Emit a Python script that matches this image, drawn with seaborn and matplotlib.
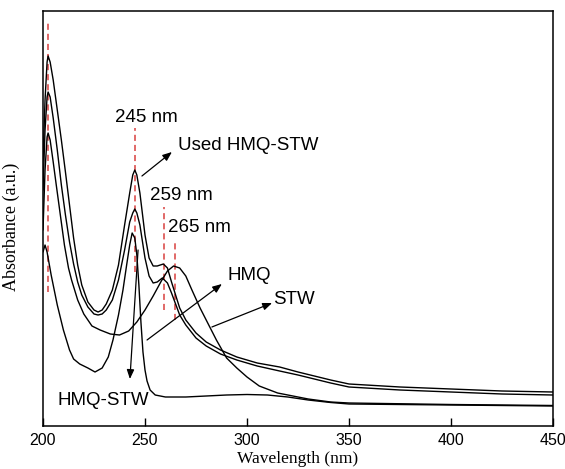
import numpy as np
import pandas as pd
import matplotlib
matplotlib.use("Agg")
import matplotlib.pyplot as plt
import seaborn as sns

# ---------------- data (arbitrary absorbance units) ----
used_wl = [200, 201, 202, 202.5, 203.5, 205, 207, 209, 211, 213, 215, 217, 219, 222, 225, 227,
           229, 231, 234, 237, 240, 242.5, 244, 245, 246, 247.5, 250, 252, 254, 256, 259, 261,
           263, 267, 270, 275, 280, 287, 295, 305, 316, 325, 341, 350, 375, 400, 425, 450]
used_abs = [2.66, 3.26, 3.64, 3.70, 3.64, 3.46, 3.16, 2.86, 2.54, 2.21, 1.88, 1.61, 1.41, 1.24,
            1.16, 1.14, 1.16, 1.22, 1.36, 1.61, 2.01, 2.33, 2.51, 2.56, 2.51, 2.33, 1.91, 1.68,
            1.60, 1.60, 1.62, 1.58, 1.44, 1.18, 1.06, 0.93, 0.84, 0.76, 0.69, 0.63, 0.59, 0.54,
            0.46, 0.42, 0.39, 0.37, 0.35, 0.34]

hmqstw_wl = [200, 201, 202, 202.5, 203.5, 205, 207, 209, 211, 213, 215, 217, 219, 222, 225, 227,
             229, 231, 234, 237, 240, 242.5, 244, 245, 246, 247.5, 250, 252, 254, 256, 258.5,
             261, 263, 267, 270, 275, 280, 287, 295, 305, 316, 325, 341, 350, 375, 400, 425, 450]
hmqstw_abs = [2.36, 2.96, 3.29, 3.34, 3.29, 3.08, 2.76, 2.41, 2.11, 1.84, 1.62, 1.44, 1.31, 1.19,
              1.12, 1.11, 1.12, 1.16, 1.26, 1.46, 1.76, 2.04, 2.13, 2.17, 2.13, 2.01, 1.68, 1.50,
              1.43, 1.44, 1.48, 1.43, 1.33, 1.11, 1.01, 0.88, 0.80, 0.72, 0.66, 0.60, 0.55, 0.51,
              0.43, 0.39, 0.36, 0.34, 0.32, 0.31]

stw_wl = [200, 201, 202, 202.5, 203.5, 205, 206.5, 208.5, 210.5, 212.5, 214, 217, 220, 224, 228,
          233, 237.5, 242, 246, 250, 254, 258, 261, 264, 267, 270, 273, 277, 281, 285, 290, 295,
          300, 306, 315, 330, 341, 350, 400, 450]
stw_abs = [1.96, 2.56, 2.89, 2.93, 2.86, 2.64, 2.41, 2.11, 1.81, 1.58, 1.46, 1.26, 1.12, 1.00,
           0.96, 0.92, 0.91, 0.95, 1.04, 1.16, 1.30, 1.45, 1.55, 1.60, 1.58, 1.50, 1.36, 1.18,
           1.02, 0.86, 0.68, 0.58, 0.49, 0.40, 0.33, 0.27, 0.24, 0.23, 0.215, 0.205]

hmq_wl = [200, 201, 202, 204, 207, 210, 213, 215, 218, 222, 225.5, 229, 232, 234.3, 237, 239.2,
          241, 242.5, 243.7, 245, 246, 247, 248, 249, 250, 251, 252.5, 255, 260, 270, 280, 290,
          300, 310, 320, 330, 341, 350, 400, 450]
hmq_abs = [1.74, 1.81, 1.74, 1.51, 1.21, 0.96, 0.76, 0.67, 0.62, 0.58, 0.54, 0.58, 0.69, 0.86,
           1.11, 1.36, 1.61, 1.81, 1.93, 1.88, 1.71, 1.41, 1.04, 0.74, 0.56, 0.45, 0.36, 0.31,
           0.29, 0.29, 0.30, 0.31, 0.315, 0.31, 0.29, 0.26, 0.235, 0.22, 0.21, 0.20]

samples = ["Used HMQ-STW", "HMQ-STW", "STW", "HMQ"]
peak_labels = ["245 nm", "259 nm", "265 nm"]
xticks = [200, 250, 300, 350, 400, 450]

# ---------------- build table ----------------
frames = []
for name, wl, ab in zip(samples,
                        [used_wl, hmqstw_wl, stw_wl, hmq_wl],
                        [used_abs, hmqstw_abs, stw_abs, hmq_abs]):
    frames.append(pd.DataFrame({"wavelength": wl, "absorbance": ab, "sample": name}))
df = pd.concat(frames, ignore_index=True)

sns.set_style("ticks")
plt.rcParams["font.family"] = ["Liberation Sans", "DejaVu Sans"]
plt.rcParams["text.color"] = "black"
plt.rcParams["xtick.color"] = "black"
plt.rcParams["axes.labelcolor"] = "black"

fig = plt.figure(figsize=(5.65, 4.69), dpi=100)
ax = fig.add_axes([43 / 565, 1 - 426 / 469, 510 / 565, 415 / 469])

sns.lineplot(data=df, x="wavelength", y="absorbance", hue="sample",
             palette={s: "black" for s in samples}, estimator=None, sort=True,
             legend=False, linewidth=1.0, ax=ax)
for ln in ax.get_lines():
    ln.set_solid_joinstyle("round")

# red dashed guide lines
red = "#d8403f"
dash = dict(color=red, linestyle=(0, (4, 2.6)), linewidth=1.1, zorder=1)
ax.plot([202.5, 202.5], [1.34, 4.06], **dash)
ax.plot([245, 245], [1.54, 2.98], **dash)
ax.plot([259.3, 259.3], [1.16, 2.19], **dash)
ax.plot([264.7, 264.7], [1.06, 1.86], **dash)

fs = 13.5
ax.text(250.7, 3.09, peak_labels[0], ha="center", va="center", fontsize=fs)
ax.text(252.3, 2.31, peak_labels[1], ha="left", va="center", fontsize=fs)
ax.text(261.2, 1.99, peak_labels[2], ha="left", va="center", fontsize=fs)

arrow = dict(arrowstyle="-|>,head_length=0.55,head_width=0.22", color="black", lw=0.9,
             shrinkA=0, shrinkB=0)
ax.annotate("", xy=(263.2, 2.74), xytext=(248.5, 2.50), arrowprops=arrow)
ax.text(266.2, 2.81, samples[0], ha="left", va="center", fontsize=fs)

ax.annotate("", xy=(287.7, 1.42), xytext=(251.0, 0.86), arrowprops=arrow)
ax.text(290.2, 1.51, samples[3], ha="left", va="center", fontsize=fs)

ax.annotate("", xy=(312.3, 1.23), xytext=(282.8, 0.99), arrowprops=arrow)
ax.text(312.7, 1.27, samples[2], ha="left", va="center", fontsize=fs)

ax.annotate("", xy=(242.6, 0.47), xytext=(246.6, 1.76), arrowprops=arrow)
ax.text(206.9, 0.26, samples[1], ha="left", va="center", fontsize=fs)

ax.set_xlim(200, 450)
ax.set_ylim(0, 4.15)
ax.set_xticks(xticks)
ax.set_xticklabels([str(t) for t in xticks], fontsize=11.5)
ax.set_yticks([])
ax.tick_params(axis="x", direction="in", length=6, width=1.0, pad=5, top=False)
for sp in ax.spines.values():
    sp.set_visible(True)
    sp.set_linewidth(1.1)
    sp.set_color("black")

serif = ["Liberation Serif", "DejaVu Serif"]
ax.set_xlabel("Wavelength (nm)", fontsize=12.5, family=serif)
ax.set_ylabel("Absorbance (a.u.)", fontsize=13, family=serif)
ax.xaxis.set_label_coords(0.5, -0.061)
ax.yaxis.set_label_coords(-0.045, 0.48)

fig.savefig("out.png", dpi=100)
